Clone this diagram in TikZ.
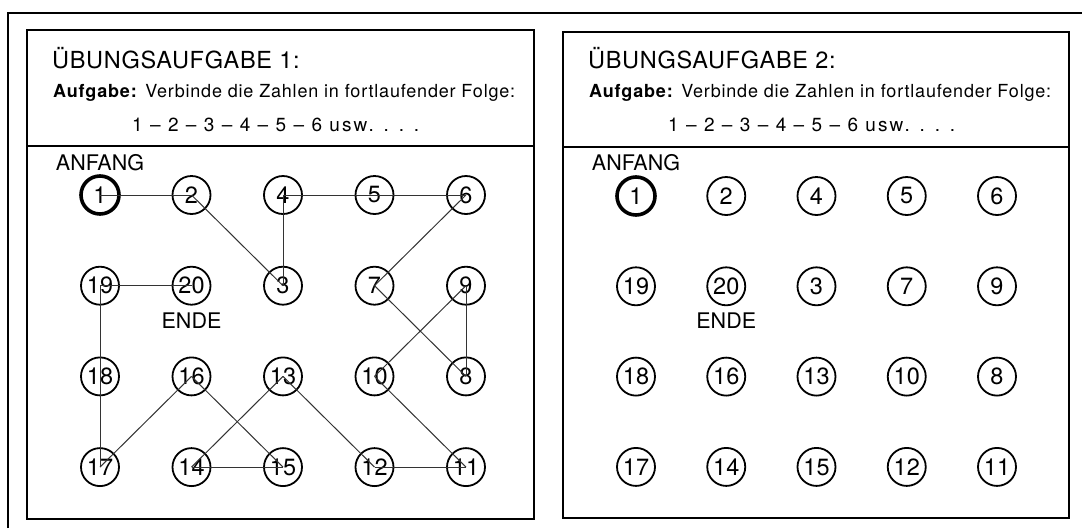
\documentclass[tikz,border=0pt]{standalone}
\usepackage{fontspec}
\setmainfont{TeX Gyre Heros}
\newfontfamily\headfont[LetterSpace=3]{TeX Gyre Heros}
\newfontfamily\taskfont[LetterSpace=4.5]{TeX Gyre Heros}
\newfontfamily\seqfont[LetterSpace=11]{TeX Gyre Heros}
\begin{document}
\begin{tikzpicture}[x=1pt,y=-1pt,
  panelline/.style={line width=2pt, black},
  numdot/.style={circle, draw, line width=1.8pt, minimum size=38pt, inner sep=0pt,
    font=\fontsize{23.5}{23.5}\selectfont},
  firstdot/.style={numdot, line width=3.6pt},
  trail/.style={line width=1pt, black!80},
  tag/.style={inner sep=0pt, font=\fontsize{21.5}{21.5}\selectfont},
  headline/.style={inner sep=0pt, anchor=base west, font=\headfont\fontsize{23.5}{23.5}\selectfont},
  taskline/.style={inner sep=0pt, anchor=base west, font=\taskfont\fontsize{18}{18}\selectfont},
  seqline/.style={inner sep=0pt, anchor=base west, font=\seqfont\fontsize{19}{19}\selectfont}]
\useasboundingbox (0,0) rectangle (1082,528);
\fill[white] (0,0) rectangle (1082,528);

% outer page frame
\draw[panelline] (7.5,528) -- (7.5,13) -- (1082,13);

% the two exercise panels
\draw[panelline] (27,30) rectangle (534,519);
\draw[panelline] (27,146) -- (534,146);
\draw[panelline, line width=2.4pt] (563,32) rectangle (1069,518);
\draw[panelline] (563,147) -- (1069,147);

% headers, number grids and labels
\foreach \p/\dx/\k/\xa/\xs/\ya/\ys in {L/0/1/100/91.5/195/90.7, R/536/2/636/90.25/196/90.3} {
  \node[headline] (\p title) at (\dx+52,68) {ÜBUNGSAUFGABE \k:};
  \node[taskline] (\p task) at (\dx+53,97) {\textbf{Aufgabe:} Verbinde die Zahlen in fortlaufender Folge:};
  \node[seqline] (\p seq) at (\dx+132,131) {1 \textendash{} 2 \textendash{} 3 \textendash{} 4 \textendash{} 5 \textendash{} 6 usw. . . .};
  \node[firstdot] (\p1) at (\xa,\ya) {1};
  \foreach \n/\c/\r in {2/1/0, 4/2/0, 5/3/0, 6/4/0,
                        19/0/1, 20/1/1, 3/2/1, 7/3/1, 9/4/1,
                        18/0/2, 16/1/2, 13/2/2, 10/3/2, 8/4/2,
                        17/0/3, 14/1/3, 15/2/3, 12/3/3, 11/4/3}
    \node[numdot] (\p\n) at ({\xa+\c*\xs},{\ya+\r*\ys}) {\n};
  \node[tag] (\p start) at (\xa,162.5) {ANFANG};
  \node[tag] (\p end) at (\xa+\xs,321) {ENDE};
}

% solved path in the first panel
\foreach \a [count=\b from 2] in {1,...,19}
  \draw[trail] (L\a.center) -- (L\b.center);
\end{tikzpicture}
\end{document}
